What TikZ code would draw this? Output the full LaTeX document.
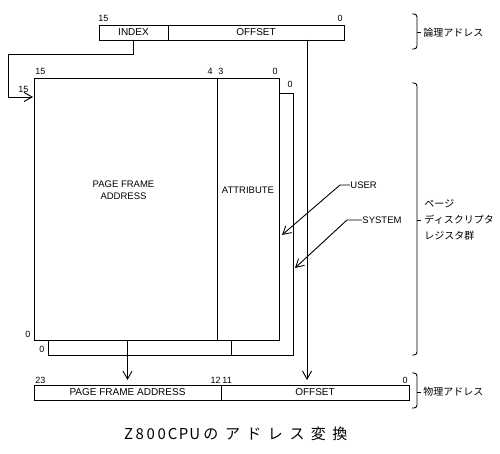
\documentclass[tikz,border=0pt]{standalone}
\usepackage{fontspec}
\setmainfont{Liberation Sans}
\newfontfamily\jpfont{Noto Sans CJK JP}
\usetikzlibrary{positioning, arrows.meta, calc}
\tikzset{>={Straight Barb[length=8pt,width=9pt]}}
\newcommand{\cw}[2]{\makebox[#1pt]{#2}}

\begin{document}
\begin{tikzpicture}[x=1pt, y=-1pt, line width=0.9pt]

\tikzstyle{field}=[draw=black, rectangle, inner sep=0, outer sep=0, minimum height=15, fill=white, font=\fontsize{10}{12}\selectfont]
\tikzstyle{reg}=[draw=black, rectangle, inner sep=0, outer sep=0, minimum height=262, fill=white]
\tikzstyle{bit}=[font=\fontsize{9}{9}\selectfont, inner sep=0]
\tikzstyle{txt}=[font=\fontsize{9.5}{11.5}\selectfont, inner sep=0, align=center]
\tikzstyle{jp}=[font=\jpfont\fontsize{10}{16}\selectfont, inner sep=0, align=left, anchor=west]
\tikzstyle{bracket}=[draw=black, rounded corners=3]

\useasboundingbox (0,0) rectangle (500,454);

% logical address
\node [field, minimum width=69] (index) at (133.5, 32.5) {INDEX};
\node [field, minimum width=176, right=0 of index] (offset) {OFFSET};
\node [bit, anchor=base west] at ($(index.north west) + (-1, -3)$) {15};
\node [bit, anchor=base east] at ($(offset.north east) + (-1, -3)$) {0};

% descriptor registers (system behind, user in front)
\node [reg, minimum width=183] (sys-frame) at (139.5, 224) {};
\node [reg, minimum width=62, right=0 of sys-frame] (sys-attr) {};
\node [reg, minimum width=183] (usr-frame) at ($(sys-frame) + (-14, -15)$) {};
\node [reg, minimum width=62, right=0 of usr-frame] (usr-attr) {};

\node [txt] (frame-lbl) at ($(usr-frame) + (-2, -19)$) {PAGE FRAME\\ADDRESS};
\node [txt] (attr-lbl) at ($(usr-attr) + (0, -19)$) {ATTRIBUTE};

\node [bit, anchor=base west] at ($(usr-frame.north west) + (1, -3)$) {15};
\node [bit, anchor=base east] at ($(usr-frame.north east) + (-4, -3)$) {4};
\node [bit, anchor=base west] at ($(usr-attr.north west) + (1, -3)$) {3};
\node [bit, anchor=base east] at ($(usr-attr.north east) + (-1, -3)$) {0};
\node [bit, anchor=base east] at ($(sys-attr.north east) + (0, -5)$) {0};
\node [bit, anchor=base west] at ($(usr-frame.north west) + (-16, 15)$) {15};
\node [bit, anchor=base west] at ($(usr-frame.south west) + (-9, -3)$) {0};
\node [bit, anchor=base west] at ($(sys-frame.south west) + (-9, -3)$) {0};

% physical address
\node [field, minimum width=187] (phys-frame) at (127.5, 392.5) {PAGE FRAME ADDRESS};
\node [field, minimum width=188, right=0 of phys-frame] (phys-offset) {OFFSET};
\node [bit, anchor=base west] at ($(phys-frame.north west) + (1, -2)$) {23};
\node [bit, anchor=base east] at ($(phys-frame.north east) + (0, -2)$) {12};
\node [bit, anchor=base west] at ($(phys-offset.north west) + (1, -2)$) {11};
\node [bit, anchor=base east] at ($(phys-offset.north east) + (-1, -2)$) {0};

% connections
\coordinate (idx-in) at ($(usr-frame.north west) + (0, 19)$);
\draw [->, shorten >=1] (index.south) -- ++(0, 14) -| ($(idx-in) + (-26, 0)$) -- (idx-in);
\draw [->, shorten >=5] ([xshift=51]offset.south) -- ([xshift=-8]phys-offset.north);
\draw [->, shorten >=5] (phys-frame.north |- usr-frame.south) -- (phys-frame.north);

\node [txt, anchor=west] (user) at (350, 185) {USER};
\node [txt, anchor=west] (system) at (362, 220) {SYSTEM};
\coordinate (user-tip) at ($(usr-attr.east) + (3, 26)$);
\coordinate (system-tip) at ($(sys-attr.east) + (2, 44)$);
\draw [->] (user.west) -- ++(-10, 0) -- (user-tip);
\draw [->] (system.west) -- ++(-15, 0) -- (system-tip);

% brackets
\draw [bracket] (412, 14) -- (417, 14) -- (417, 49) -- (412, 49);
\draw (417, 32) -- (421, 32);
\draw [bracket] (412, 83) -- (417, 83) -- (417, 355) -- (412, 355);
\draw (417, 220) -- (421, 220);
\draw [bracket] (412, 373) -- (417, 373) -- (417, 408) -- (412, 408);
\draw (417, 392) -- (421, 392);

\node [jp] (logical) at (423, 33) {論理アドレス};
\node [jp] (desc) at (424, 220) {ページ\\ディスクリプタ\\レジスタ群};
\node [jp] (physical) at (423, 392) {物理アドレス};

% caption
\node [font=\jpfont\fontsize{15}{15}\selectfont, inner sep=0] (caption) at (237, 434)
  {\cw{11}{Z}\cw{11}{8}\cw{11}{0}\cw{11}{0}\cw{11}{C}\cw{11}{P}\cw{11}{U}\cw{21.5}{の}\cw{21.5}{ア}\cw{21.5}{ド}\cw{21.5}{レ}\cw{21.5}{ス}\cw{21.5}{変}\cw{21.5}{換}};

\end{tikzpicture}
\end{document}
